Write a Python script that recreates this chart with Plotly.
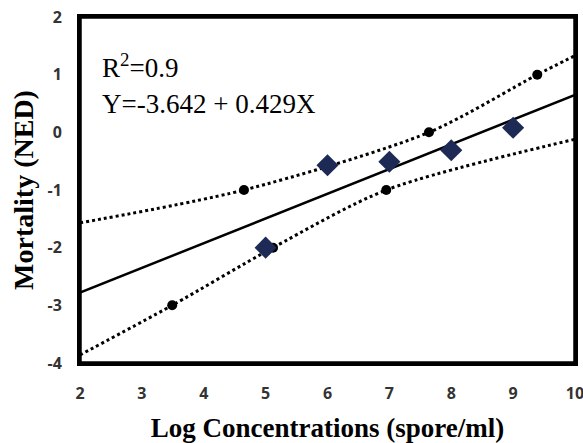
import plotly.graph_objects as go

# Observed data (diamonds)
obs_x = [5, 6, 7, 8, 9]
obs_y = [-2.0, -0.57, -0.51, -0.31, 0.08]

# Upper confidence band (dotted) and its marked points
upper_x = [2, 4.65, 7.64, 9.39, 10]
upper_y = [-1.57, -1.0, 0.0, 1.0, 1.33]
upper_pts_x = [4.65, 7.64, 9.39]
upper_pts_y = [-1.0, 0.0, 1.0]

# Lower confidence band (dotted) and its marked points
lower_x = [2, 3.49, 5.12, 6.95, 10]
lower_y = [-3.86, -3.0, -2.0, -1.0, -0.12]
lower_pts_x = [3.49, 5.12, 6.95]
lower_pts_y = [-3.0, -2.0, -1.0]

# Regression line endpoints
reg_x = [2, 10]
reg_y = [-2.78, 0.65]

x_ticks = [2, 3, 4, 5, 6, 7, 8, 9, 10]
y_ticks = [-4, -3, -2, -1, 0, 1, 2]
y_tick_text = ["-4", "-3", "-2", "-1", "0", "1", "2"]

fig = go.Figure()
fig.add_trace(go.Scatter(x=upper_x, y=upper_y, mode="lines", line=dict(color="black", width=3, dash="dot", shape="spline", smoothing=0.8), hoverinfo="skip"))
fig.add_trace(go.Scatter(x=lower_x, y=lower_y, mode="lines", line=dict(color="black", width=3, dash="dot", shape="spline", smoothing=0.8), hoverinfo="skip"))
fig.add_trace(go.Scatter(x=reg_x, y=reg_y, mode="lines", line=dict(color="black", width=2.5)))
fig.add_trace(go.Scatter(x=upper_pts_x + lower_pts_x, y=upper_pts_y + lower_pts_y, mode="markers",
                         marker=dict(color="black", size=10, symbol="circle")))
fig.add_trace(go.Scatter(x=obs_x, y=obs_y, mode="markers",
                         marker=dict(color="#1c2a55", size=17, symbol="diamond")))

fig.add_annotation(x=0.04, y=0.858, xref="paper", yref="paper", xanchor="left", yanchor="middle",
                   text="R<sup>2</sup>=0.9", showarrow=False,
                   font=dict(family="Liberation Serif", size=27, color="black"))
fig.add_annotation(x=0.04, y=0.749, xref="paper", yref="paper", xanchor="left", yanchor="middle",
                   text="Y=-3.642 + 0.429X", showarrow=False,
                   font=dict(family="Liberation Serif", size=27, color="black"))

fig.add_shape(type="rect", xref="paper", yref="paper", x0=0, x1=1, y0=0, y1=1,
              line=dict(color="black", width=3.5), layer="above")

fig.update_layout(
    width=583, height=443,
    margin=dict(l=80, r=8, t=17, b=80, autoexpand=False),
    paper_bgcolor="white", plot_bgcolor="white",
    showlegend=False,
    xaxis=dict(range=[2, 10], tickvals=x_ticks, showgrid=False, zeroline=False,
               showline=True, linecolor="black", linewidth=3, mirror=True, automargin=False,
               ticks="", ticklabelstandoff=14, ticklabeloverflow="allow",
               tickfont=dict(family="Open Sans", size=16, color="#333333", weight="bold"),
               title=dict(text="<b>Log Concentrations (spore/ml)</b>", standoff=16,
                          font=dict(family="Liberation Serif", size=27, color="black"))),
    yaxis=dict(range=[-4, 2], tickvals=y_ticks, ticktext=y_tick_text, showgrid=False, zeroline=False,
               showline=True, linecolor="black", linewidth=3, mirror=True, automargin=False,
               ticks="", ticklabelstandoff=12,
               tickfont=dict(family="Open Sans", size=16, color="#333333", weight="bold"),
               title=dict(text="<b>Mortality (NED)</b>", standoff=6,
                          font=dict(family="Liberation Serif", size=28, color="black"))),
)

fig.write_html("out.html", config={"displayModeBar": False},
               post_script="document.body.style.margin='0';document.body.style.overflow='hidden';")
